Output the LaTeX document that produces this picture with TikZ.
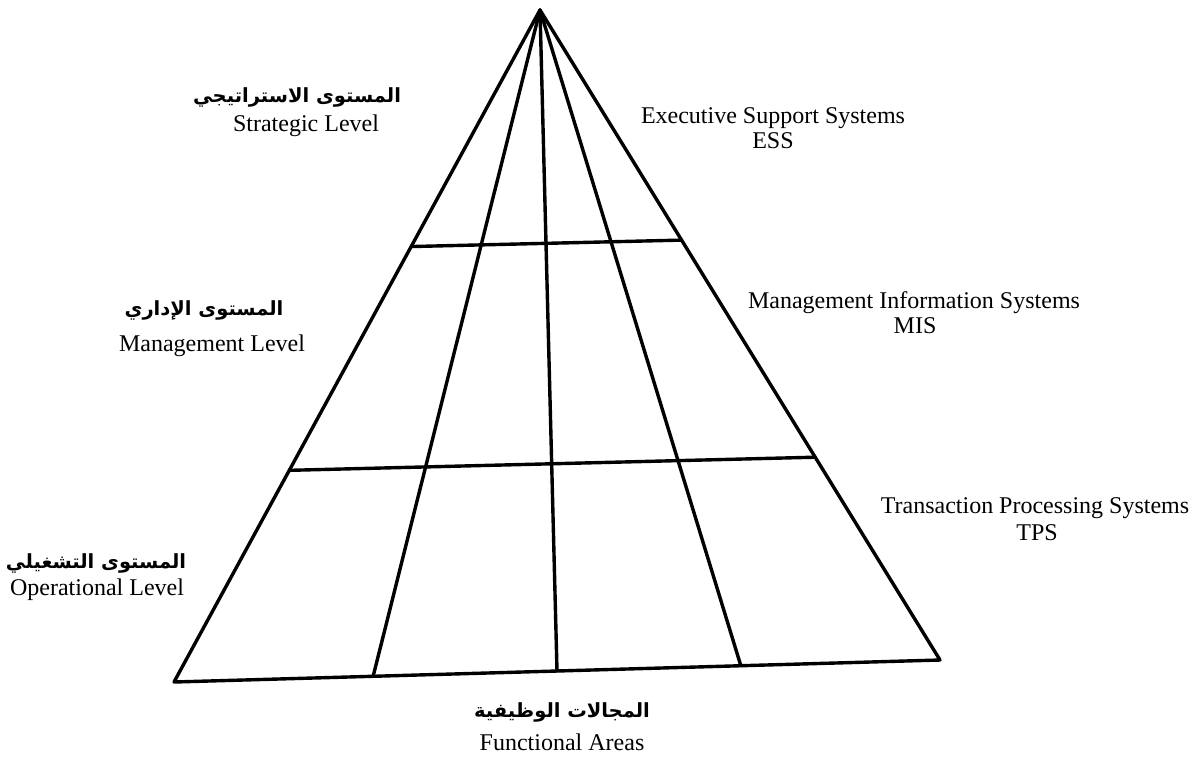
\documentclass[tikz,border=0pt]{standalone}
\usepackage{fontspec}
\setmainfont{Liberation Serif}
\newfontfamily\arabicfont[Script=Arabic]{DejaVu Sans}
\TeXXeTstate=1
\usetikzlibrary{calc}
\begin{document}
\begin{tikzpicture}[x=1pt,y=-1pt,
  edge/.style={line width=3.4pt,line join=round,line cap=round},
  en/.style={font=\fontsize{24}{28}\selectfont,anchor=base,inner sep=0pt},
  ar/.style={font=\arabicfont\bfseries\fontsize{19.5}{24}\selectfont,anchor=base,inner sep=0pt}]
\useasboundingbox (0,0) rectangle (1198,756);
% corners
\coordinate (A) at (540,10);
\coordinate (BL) at (174,682);
\coordinate (BR) at (940,660);
% bottom division points
\coordinate (B1) at ($(BL)!0.26!(BR)$);
\coordinate (B2) at ($(BL)!0.50!(BR)$);
\coordinate (B3) at ($(BL)!0.74!(BR)$);
% level lines
\coordinate (L1) at ($(A)!0.352!(BL)$);
\coordinate (R1) at ($(A)!0.354!(BR)$);
\coordinate (L2) at ($(A)!0.685!(BL)$);
\coordinate (R2) at ($(A)!0.688!(BR)$);
\draw[edge] (A) -- (BL) -- (BR) -- cycle;
\draw[edge] (A) -- (B1);
\draw[edge] (A) -- (B2);
\draw[edge] (A) -- (B3);
\draw[edge] (L1) -- (R1);
\draw[edge] (L2) -- (R2);
% left labels
\node[ar] (sar) at (297,102) {\beginR المستوى الاستراتيجي\endR};
\node[en] (sen) at (306,131) {Strategic Level};
\node[ar] (mar) at (204,315) {\beginR المستوى الإداري\endR};
\node[en] (men) at (212,351) {Management Level};
\node[ar] (oar) at (96,568) {\beginR المستوى التشغيلي\endR};
\node[en] (oen) at (97,595) {Operational Level};
% right labels
\node[en] (ess1) at (773,123) {Executive Support Systems};
\node[en] (ess2) at (773,148) {ESS};
\node[en] (mis1) at (914,308) {Management Information Systems};
\node[en] (mis2) at (915,333) {MIS};
\node[en] (tps1) at (1035,513) {Transaction Processing Systems};
\node[en] (tps2) at (1037,540) {TPS};
% bottom labels
\node[ar] (far) at (562,717) {\beginR المجالات الوظيفية\endR};
\node[en] (fen) at (562,750) {Functional Areas};
\end{tikzpicture}
\end{document}
